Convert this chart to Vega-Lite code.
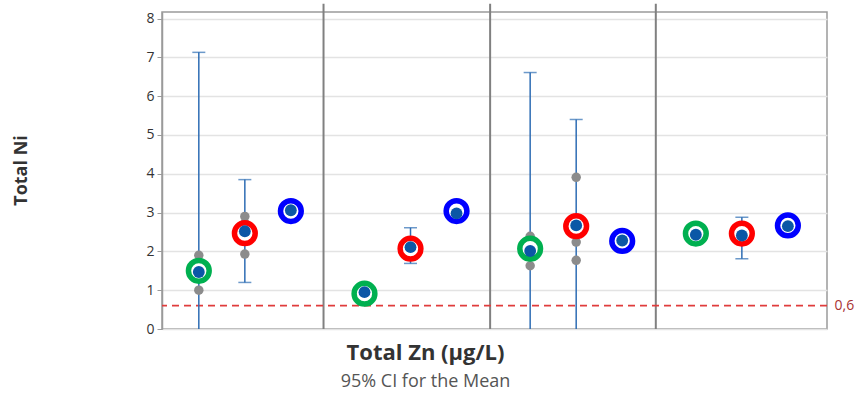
{
  "$schema": "https://vega.github.io/schema/vega-lite/v6.json",
  "width": 665,
  "height": 317,
  "autosize": {"type": "none"},
  "padding": {"left": 162, "top": 12, "right": 30, "bottom": 65},
  "background": "white",
  "title": {
    "text": "Total Zn (µg/L)",
    "subtitle": "95% CI for the Mean",
    "orient": "bottom",
    "anchor": "middle",
    "dx": -69,
    "offset": 7,
    "font": "Open Sans",
    "fontSize": 22,
    "fontWeight": "bold",
    "color": "#333333",
    "subtitleFont": "Open Sans",
    "subtitleFontSize": 18,
    "subtitleColor": "#555555",
    "subtitlePadding": 8
  },
  "datasets": {
    "means": [
      {"x": 0, "grp": "G", "mean": 1.47, "ring": 1.50, "lo": -4.19, "hi": 7.13},
      {"x": 1, "grp": "R", "mean": 2.52, "ring": 2.47, "lo": 1.20, "hi": 3.85},
      {"x": 2, "grp": "B", "mean": 3.06, "ring": 3.04, "lo": null, "hi": null},
      {"x": 3.6, "grp": "G", "mean": 0.95, "ring": 0.91, "lo": null, "hi": null},
      {"x": 4.6, "grp": "R", "mean": 2.11, "ring": 2.07, "lo": 1.69, "hi": 2.61},
      {"x": 5.6, "grp": "B", "mean": 2.98, "ring": 3.04, "lo": null, "hi": null},
      {"x": 7.2, "grp": "G", "mean": 2.01, "ring": 2.07, "lo": -2.59, "hi": 6.61},
      {"x": 8.2, "grp": "R", "mean": 2.67, "ring": 2.65, "lo": -0.12, "hi": 5.40},
      {"x": 9.2, "grp": "B", "mean": 2.28, "ring": 2.27, "lo": null, "hi": null},
      {"x": 10.8, "grp": "G", "mean": 2.43, "ring": 2.46, "lo": null, "hi": null},
      {"x": 11.8, "grp": "R", "mean": 2.41, "ring": 2.46, "lo": 1.81, "hi": 2.88},
      {"x": 12.8, "grp": "B", "mean": 2.65, "ring": 2.67, "lo": null, "hi": null}
    ],
    "obs": [
      {"x": 0, "v": 1.9}, {"x": 0, "v": 1.0}, {"x": 0, "v": 1.5},
      {"x": 1, "v": 2.9}, {"x": 1, "v": 2.73}, {"x": 1, "v": 1.93},
      {"x": 2, "v": 3.04},
      {"x": 3.6, "v": 0.93},
      {"x": 4.6, "v": 1.95}, {"x": 4.6, "v": 2.15}, {"x": 4.6, "v": 2.23},
      {"x": 5.6, "v": 3.0},
      {"x": 7.2, "v": 1.63}, {"x": 7.2, "v": 2.39},
      {"x": 8.2, "v": 3.91}, {"x": 8.2, "v": 2.24}, {"x": 8.2, "v": 1.77},
      {"x": 9.2, "v": 2.27},
      {"x": 10.8, "v": 2.45},
      {"x": 11.8, "v": 2.62}, {"x": 11.8, "v": 2.35}, {"x": 11.8, "v": 2.26},
      {"x": 12.8, "v": 2.66}
    ],
    "dividers": [{"x": 2.71}, {"x": 6.33}, {"x": 9.93}],
    "limit": [{"y": 0.6}]
  },
  "config": {
    "font": "Open Sans",
    "view": {"stroke": "#9a9a9a", "strokeWidth": 1.5},
    "axis": {
      "gridColor": "#e3e3e3",
      "gridWidth": 1.5,
      "domainColor": "#9a9a9a",
      "domainWidth": 1.5,
      "tickColor": "#9a9a9a",
      "tickWidth": 1,
      "labelColor": "#333333",
      "labelFont": "Open Sans",
      "labelFontSize": 14
    }
  },
  "resolve": {"axis": {"y": "independent"}},
  "layer": [
    {
      "data": {"name": "dividers"},
      "mark": {"type": "rule", "clip": false, "color": "#808080", "strokeWidth": 2},
      "encoding": {
        "x": {"field": "x", "type": "quantitative", "scale": {"domain": [-0.8, 13.65], "nice": false, "zero": false}, "axis": null},
        "y": {"datum": 0, "type": "quantitative", "scale": {"domain": [0, 8.17], "nice": false, "zero": false}, "axis": null},
        "y2": {"datum": 8.38}
      }
    },
    {
      "data": {"name": "limit"},
      "mark": {"type": "rule", "color": "#e03c3c", "strokeWidth": 1.8, "strokeDash": [7, 5]},
      "encoding": {
        "y": {
          "field": "y", "type": "quantitative",
          "axis": {"orient": "right", "values": [0.6], "labelExpr": "'0,6'", "ticks": false, "domain": false, "grid": false, "labelColor": "#a83232", "labelFontSize": 14, "labelPadding": 7, "title": null}
        }
      }
    },
    {
      "data": {"name": "means"},
      "transform": [{"filter": "datum.hi != null"}],
      "mark": {"type": "rule", "clip": true, "color": "#2e6db4", "strokeWidth": 1.5},
      "encoding": {
        "x": {"field": "x", "type": "quantitative", "axis": null},
        "y": {"field": "lo", "type": "quantitative", "axis": null},
        "y2": {"field": "hi"}
      }
    },
    {
      "data": {"name": "means"},
      "transform": [{"filter": "datum.hi != null"}],
      "mark": {"type": "tick", "orient": "horizontal", "clip": true, "color": "#2e6db4", "size": 13, "thickness": 1.5},
      "encoding": {
        "x": {"field": "x", "type": "quantitative", "axis": null},
        "y": {"field": "hi", "type": "quantitative", "axis": null}
      }
    },
    {
      "data": {"name": "means"},
      "transform": [{"filter": "datum.hi != null"}],
      "mark": {"type": "tick", "orient": "horizontal", "clip": true, "color": "#2e6db4", "size": 13, "thickness": 1.5},
      "encoding": {
        "x": {"field": "x", "type": "quantitative", "axis": null},
        "y": {"field": "lo", "type": "quantitative", "axis": null}
      }
    },
    {
      "data": {"name": "obs"},
      "mark": {"type": "circle", "size": 90, "color": "#8c8c8c", "opacity": 1},
      "encoding": {
        "x": {"field": "x", "type": "quantitative", "axis": null},
        "y": {"field": "v", "type": "quantitative", "axis": null}
      }
    },
    {
      "data": {"name": "means"},
      "mark": {"type": "point", "shape": "circle", "filled": false, "fill": "white", "fillOpacity": 1, "opacity": 1, "strokeWidth": 5.5, "size": 430},
      "encoding": {
        "x": {"field": "x", "type": "quantitative", "axis": null},
        "y": {"field": "ring", "type": "quantitative", "axis": null},
        "color": {"field": "grp", "type": "nominal", "scale": {"domain": ["G", "R", "B"], "range": ["#00b050", "#ff0000", "#0000ff"]}, "legend": null}
      }
    },
    {
      "data": {"name": "means"},
      "mark": {"type": "circle", "size": 140, "color": "#0b57a6", "opacity": 1},
      "encoding": {
        "x": {
          "field": "x", "type": "quantitative",
          "axis": {"values": [0, 1, 2, 3.6, 4.6, 5.6, 7.2, 8.2, 9.2, 10.8, 11.8, 12.8], "labels": false, "ticks": true, "tickSize": 5, "grid": true, "title": null}
        },
        "y": {
          "field": "mean", "type": "quantitative",
          "axis": {"values": [0, 1, 2, 3, 4, 5, 6, 7, 8], "grid": true, "tickSize": 5, "labelPadding": 3, "title": "Total Ni", "titleFont": "Open Sans", "titleFontSize": 18, "titleFontWeight": "bold", "titleColor": "#333333", "titleAngle": 270, "titleAlign": "center", "titleBaseline": "middle", "titleX": -141, "titleY": 158}
        }
      }
    }
  ]
}
